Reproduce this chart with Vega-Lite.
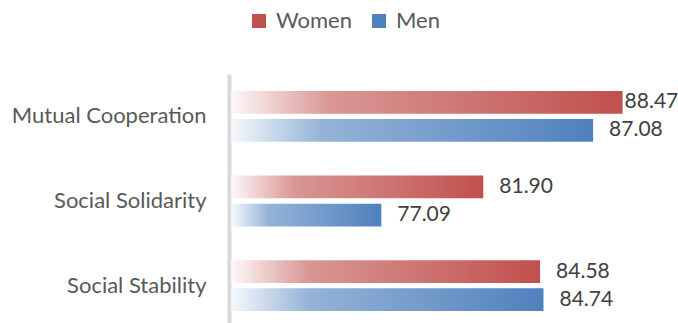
{
  "$schema": "https://vega.github.io/schema/vega-lite/v6.json",
  "width": 424,
  "height": 254,
  "autosize": {"type": "none"},
  "padding": {"left": 231, "top": 74, "right": 23, "bottom": 0},
  "config": {"view": {"stroke": null}, "font": "Lato"},
  "data": {
    "values": [
      {"category": "Mutual Cooperation", "gender": "Women", "value": 88.47},
      {"category": "Mutual Cooperation", "gender": "Men", "value": 87.08},
      {"category": "Social Solidarity", "gender": "Women", "value": 81.90},
      {"category": "Social Solidarity", "gender": "Men", "value": 77.09},
      {"category": "Social Stability", "gender": "Women", "value": 84.58},
      {"category": "Social Stability", "gender": "Men", "value": 84.74}
    ]
  },
  "encoding": {
    "y": {
      "field": "category",
      "type": "nominal",
      "sort": ["Mutual Cooperation", "Social Solidarity", "Social Stability"],
      "scale": {"paddingInner": 0.4, "paddingOuter": 0.2},
      "axis": {
        "title": null,
        "ticks": false,
        "domainColor": "#d9d9d9",
        "domainWidth": 4,
        "offset": 2,
        "labelPadding": 23,
        "labelFontSize": 22,
        "labelLimit": 400,
        "labelColor": "#595959",
        "labelFont": "Lato",
        "grid": false
      }
    },
    "yOffset": {
      "field": "gender",
      "type": "nominal",
      "sort": ["Women", "Men"],
      "scale": {"paddingInner": 0.19, "paddingOuter": 0}
    },
    "x": {
      "field": "value",
      "type": "quantitative",
      "scale": {"domain": [70, 90], "zero": false, "nice": false},
      "axis": null
    }
  },
  "layer": [
    {
      "transform": [{"filter": "datum.gender === 'Women'"}],
      "mark": {
        "type": "bar",
        "color": {
          "gradient": "linear",
          "x1": 0, "y1": 0, "x2": 1, "y2": 0,
          "stops": [
            {"offset": 0, "color": "#fdf8f8"},
            {"offset": 0.25, "color": "#d99795"},
            {"offset": 1, "color": "#c0504d"}
          ]
        }
      },
      "encoding": {"x2": {"datum": 70}}
    },
    {
      "transform": [{"filter": "datum.gender === 'Men'"}],
      "mark": {
        "type": "bar",
        "color": {
          "gradient": "linear",
          "x1": 0, "y1": 0, "x2": 1, "y2": 0,
          "stops": [
            {"offset": 0, "color": "#f6f9fc"},
            {"offset": 0.25, "color": "#95b3d7"},
            {"offset": 1, "color": "#4f81bd"}
          ]
        }
      },
      "encoding": {"x2": {"datum": 70}}
    },
    {
      "mark": {"type": "point", "opacity": 0, "filled": true, "shape": "square"},
      "encoding": {
        "color": {
          "field": "gender",
          "type": "nominal",
          "scale": {"domain": ["Women", "Men"], "range": ["#c0504d", "#4f81bd"]},
          "legend": {
            "title": null,
            "orient": "none",
            "legendX": 17,
            "legendY": -64,
            "direction": "horizontal",
            "symbolType": "square",
            "symbolSize": 196,
            "symbolOpacity": 1,
            "symbolStrokeWidth": 0,
            "labelFontSize": 22,
            "labelFont": "Lato",
            "labelColor": "#595959",
            "labelOffset": 6,
            "columnPadding": 16
          }
        }
      }
    },
    {
      "mark": {
        "type": "text",
        "align": "left",
        "baseline": "middle",
        "fontSize": 21,
        "font": "Lato",
        "color": "#404040",
        "dx": {"expr": "datum.value > 88 ? 2 : 16"}
      },
      "encoding": {"text": {"field": "value", "type": "quantitative", "format": ".2f"}}
    }
  ]
}
